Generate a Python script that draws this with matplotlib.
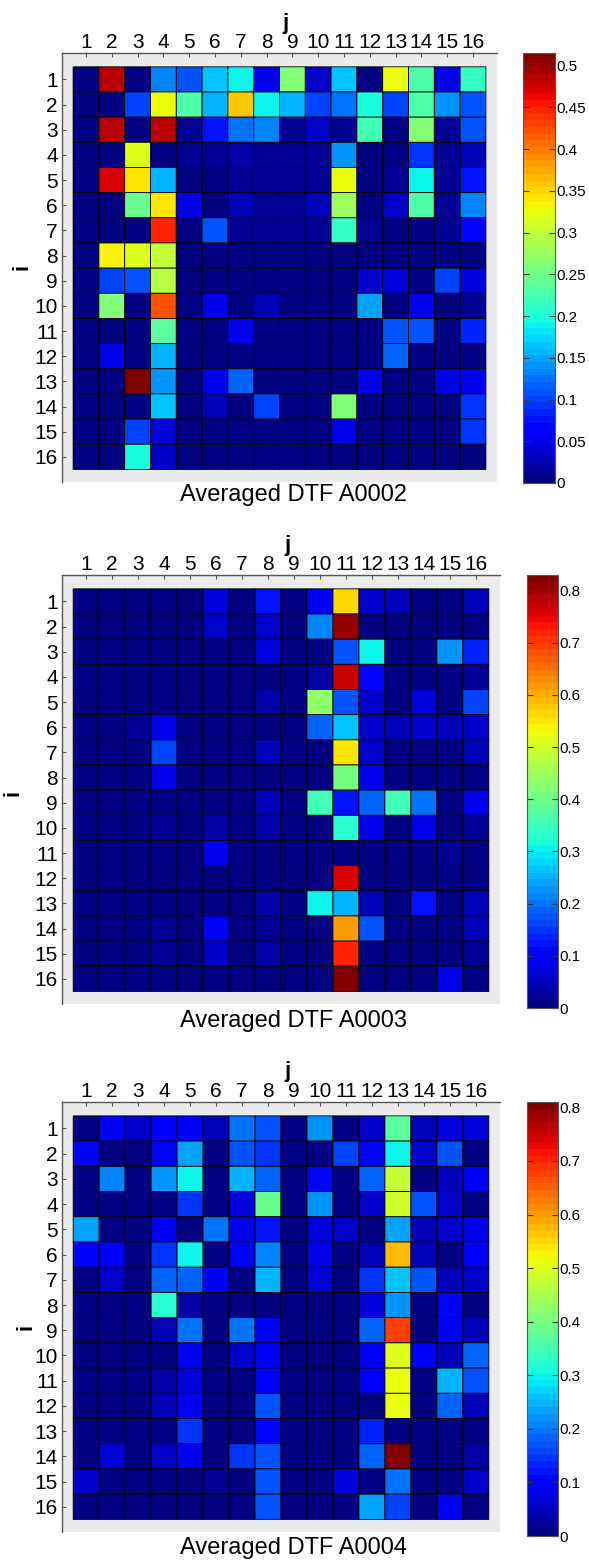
import matplotlib
matplotlib.use("Agg")
import matplotlib.pyplot as plt
import numpy as np

plt.rcParams['font.family'] = ['Liberation Sans', 'DejaVu Sans']

# channel indices (rows i, columns j)
channels = list(range(1, 17))

dtf_a0002 = [
    [0.005, 0.49, 0.005, 0.135, 0.11, 0.165, 0.19, 0.05, 0.26, 0.04, 0.165, 0.005, 0.325, 0.23, 0.055, 0.215],
    [0.005, 0.005, 0.1, 0.325, 0.23, 0.16, 0.36, 0.19, 0.16, 0.1, 0.125, 0.2, 0.1, 0.23, 0.14, 0.11],
    [0.005, 0.485, 0.005, 0.485, 0.01, 0.08, 0.125, 0.13, 0.01, 0.035, 0.01, 0.22, 0.005, 0.26, 0.01, 0.11],
    [0.005, 0.005, 0.32, 0.005, 0.01, 0.01, 0.02, 0.01, 0.01, 0.01, 0.14, 0.005, 0.005, 0.095, 0.01, 0.025],
    [0.005, 0.47, 0.34, 0.155, 0.005, 0.005, 0.01, 0.01, 0.01, 0.01, 0.325, 0.005, 0.01, 0.19, 0.01, 0.075],
    [0.005, 0.005, 0.245, 0.345, 0.05, 0.005, 0.025, 0.01, 0.01, 0.025, 0.275, 0.005, 0.035, 0.23, 0.01, 0.13],
    [0.005, 0.005, 0.005, 0.45, 0.005, 0.11, 0.01, 0.01, 0.01, 0.01, 0.21, 0.01, 0.005, 0.005, 0.01, 0.065],
    [0.005, 0.335, 0.32, 0.30, 0.005, 0.005, 0.005, 0.005, 0.005, 0.005, 0.005, 0.005, 0.005, 0.005, 0.005, 0.005],
    [0.005, 0.1, 0.11, 0.295, 0.005, 0.005, 0.005, 0.005, 0.005, 0.005, 0.005, 0.035, 0.045, 0.005, 0.1, 0.045],
    [0.005, 0.26, 0.005, 0.42, 0.005, 0.055, 0.005, 0.03, 0.005, 0.005, 0.005, 0.15, 0.005, 0.055, 0.005, 0.01],
    [0.005, 0.005, 0.005, 0.24, 0.005, 0.005, 0.055, 0.005, 0.005, 0.005, 0.005, 0.005, 0.11, 0.11, 0.005, 0.085],
    [0.005, 0.055, 0.005, 0.16, 0.005, 0.005, 0.005, 0.005, 0.005, 0.005, 0.005, 0.005, 0.12, 0.005, 0.005, 0.005],
    [0.005, 0.005, 0.515, 0.14, 0.005, 0.055, 0.12, 0.005, 0.005, 0.005, 0.005, 0.05, 0.005, 0.005, 0.055, 0.055],
    [0.005, 0.005, 0.005, 0.165, 0.005, 0.03, 0.005, 0.1, 0.005, 0.005, 0.26, 0.005, 0.005, 0.005, 0.005, 0.095],
    [0.005, 0.005, 0.1, 0.045, 0.005, 0.005, 0.005, 0.005, 0.005, 0.005, 0.055, 0.005, 0.005, 0.005, 0.005, 0.09],
    [0.005, 0.005, 0.2, 0.035, 0.005, 0.005, 0.005, 0.005, 0.005, 0.005, 0.005, 0.005, 0.005, 0.005, 0.005, 0.005],
]

dtf_a0003 = [
    [0.008, 0.008, 0.008, 0.008, 0.008, 0.075, 0.008, 0.125, 0.008, 0.1, 0.56, 0.06, 0.05, 0.008, 0.008, 0.04],
    [0.008, 0.008, 0.008, 0.008, 0.008, 0.06, 0.008, 0.06, 0.008, 0.21, 0.81, 0.01, 0.01, 0.008, 0.01, 0.01],
    [0.008, 0.008, 0.008, 0.008, 0.008, 0.008, 0.008, 0.07, 0.008, 0.01, 0.175, 0.31, 0.008, 0.008, 0.225, 0.14],
    [0.008, 0.008, 0.008, 0.008, 0.008, 0.008, 0.008, 0.008, 0.008, 0.03, 0.77, 0.11, 0.008, 0.008, 0.008, 0.025],
    [0.008, 0.008, 0.008, 0.008, 0.008, 0.008, 0.008, 0.03, 0.008, 0.43, 0.175, 0.06, 0.008, 0.07, 0.008, 0.16],
    [0.008, 0.008, 0.025, 0.08, 0.008, 0.008, 0.008, 0.008, 0.008, 0.19, 0.27, 0.06, 0.05, 0.06, 0.04, 0.06],
    [0.008, 0.008, 0.008, 0.16, 0.008, 0.008, 0.008, 0.045, 0.008, 0.008, 0.55, 0.06, 0.008, 0.008, 0.008, 0.045],
    [0.008, 0.008, 0.008, 0.08, 0.008, 0.008, 0.008, 0.008, 0.008, 0.008, 0.41, 0.08, 0.008, 0.008, 0.008, 0.008],
    [0.008, 0.008, 0.008, 0.008, 0.008, 0.008, 0.008, 0.045, 0.008, 0.355, 0.12, 0.19, 0.355, 0.2, 0.008, 0.09],
    [0.008, 0.008, 0.008, 0.025, 0.008, 0.035, 0.008, 0.03, 0.008, 0.008, 0.33, 0.09, 0.008, 0.08, 0.008, 0.025],
    [0.008, 0.008, 0.008, 0.008, 0.008, 0.09, 0.008, 0.008, 0.008, 0.008, 0.008, 0.008, 0.008, 0.008, 0.02, 0.008],
    [0.008, 0.008, 0.008, 0.008, 0.008, 0.008, 0.008, 0.008, 0.008, 0.008, 0.76, 0.008, 0.008, 0.008, 0.008, 0.008],
    [0.008, 0.008, 0.008, 0.008, 0.008, 0.008, 0.008, 0.035, 0.008, 0.31, 0.25, 0.04, 0.008, 0.12, 0.008, 0.04],
    [0.008, 0.008, 0.008, 0.025, 0.008, 0.1, 0.008, 0.025, 0.008, 0.008, 0.62, 0.17, 0.008, 0.008, 0.008, 0.04],
    [0.008, 0.008, 0.008, 0.025, 0.008, 0.06, 0.008, 0.03, 0.008, 0.008, 0.72, 0.008, 0.008, 0.008, 0.008, 0.025],
    [0.008, 0.008, 0.008, 0.008, 0.008, 0.008, 0.008, 0.008, 0.008, 0.008, 0.83, 0.008, 0.008, 0.008, 0.09, 0.008],
]

dtf_a0004 = [
    [0.008, 0.09, 0.06, 0.09, 0.09, 0.05, 0.2, 0.17, 0.008, 0.22, 0.008, 0.06, 0.37, 0.04, 0.07, 0.07],
    [0.1, 0.008, 0.008, 0.105, 0.24, 0.008, 0.17, 0.15, 0.008, 0.008, 0.16, 0.105, 0.30, 0.06, 0.17, 0.008],
    [0.008, 0.21, 0.008, 0.22, 0.30, 0.008, 0.25, 0.18, 0.008, 0.105, 0.008, 0.18, 0.47, 0.008, 0.04, 0.09],
    [0.008, 0.008, 0.008, 0.008, 0.14, 0.008, 0.07, 0.39, 0.008, 0.22, 0.008, 0.06, 0.49, 0.17, 0.06, 0.008],
    [0.24, 0.008, 0.008, 0.09, 0.008, 0.19, 0.08, 0.12, 0.008, 0.07, 0.06, 0.008, 0.23, 0.04, 0.06, 0.08],
    [0.1, 0.09, 0.008, 0.15, 0.30, 0.008, 0.1, 0.21, 0.008, 0.08, 0.008, 0.04, 0.57, 0.05, 0.008, 0.1],
    [0.008, 0.06, 0.008, 0.18, 0.18, 0.09, 0.008, 0.25, 0.008, 0.07, 0.008, 0.14, 0.26, 0.17, 0.05, 0.06],
    [0.008, 0.008, 0.008, 0.32, 0.03, 0.008, 0.008, 0.008, 0.008, 0.008, 0.008, 0.07, 0.22, 0.008, 0.09, 0.008],
    [0.008, 0.008, 0.008, 0.05, 0.19, 0.008, 0.2, 0.1, 0.008, 0.008, 0.008, 0.18, 0.68, 0.008, 0.09, 0.04],
    [0.008, 0.008, 0.008, 0.008, 0.09, 0.008, 0.06, 0.09, 0.008, 0.008, 0.008, 0.09, 0.50, 0.1, 0.05, 0.18],
    [0.008, 0.008, 0.008, 0.03, 0.07, 0.008, 0.008, 0.09, 0.008, 0.008, 0.008, 0.1, 0.51, 0.008, 0.25, 0.17],
    [0.008, 0.008, 0.008, 0.04, 0.09, 0.008, 0.008, 0.17, 0.008, 0.008, 0.008, 0.008, 0.51, 0.008, 0.18, 0.04],
    [0.008, 0.008, 0.008, 0.008, 0.14, 0.008, 0.008, 0.11, 0.008, 0.008, 0.008, 0.13, 0.008, 0.008, 0.008, 0.008],
    [0.008, 0.07, 0.008, 0.06, 0.1, 0.008, 0.14, 0.17, 0.008, 0.008, 0.008, 0.18, 0.81, 0.008, 0.008, 0.03],
    [0.06, 0.008, 0.008, 0.008, 0.008, 0.02, 0.008, 0.17, 0.008, 0.008, 0.07, 0.008, 0.19, 0.008, 0.008, 0.06],
    [0.008, 0.008, 0.008, 0.008, 0.008, 0.008, 0.008, 0.17, 0.008, 0.008, 0.008, 0.24, 0.16, 0.008, 0.09, 0.008],
]

titles = ['Averaged DTF A0002', 'Averaged DTF A0003', 'Averaged DTF A0004']
color_max = [0.515, 0.83, 0.81]
cbar_ticks = [
    [0, 0.05, 0.1, 0.15, 0.2, 0.25, 0.3, 0.35, 0.4, 0.45, 0.5],
    [0, 0.1, 0.2, 0.3, 0.4, 0.5, 0.6, 0.7, 0.8],
    [0, 0.1, 0.2, 0.3, 0.4, 0.5, 0.6, 0.7, 0.8],
]

W, H = 589, 1563
fig = plt.figure(figsize=(W / 100, H / 100), dpi=100)


def rect(x0, y0, x1, y1):
    # pixel box (top-left origin) -> figure fraction
    return [x0 / W, 1 - y1 / H, (x1 - x0) / W, (y1 - y0) / H]


# pixel layout of each panel: axes box, colorbar box, title y, j label y, i label x/y
layout = [
    dict(ax=(62, 53, 497, 482), cb=(523, 53, 555, 483), title_y=495, j_y=24, i_x=22, i_y=267),
    dict(ax=(62, 575, 500, 1004), cb=(527, 575, 558, 1008), title_y=1021, j_y=545, i_x=13, i_y=793),
    dict(ax=(62, 1102, 500, 1532), cb=(527, 1102, 558, 1536), title_y=1548, j_y=1072, i_x=26, i_y=1327),
]

cmap = plt.get_cmap('jet', 64)
matrices = [dtf_a0002, dtf_a0003, dtf_a0004]

for data, title, vmax, ticks, lay in zip(matrices, titles, color_max, cbar_ticks, layout):
    ax = fig.add_axes(rect(*lay['ax']))
    ax.set_facecolor('#ebebeb')
    edges = np.arange(0.5, 17.5, 1)
    mesh = ax.pcolormesh(edges, edges, np.array(data), cmap=cmap, vmin=0, vmax=vmax,
                         edgecolors='black', linewidth=0.6, antialiased=True, snap=False)
    ax.set_xlim(0.07, 16.93)
    ax.set_ylim(17.0, -0.05)
    ax.xaxis.tick_top()
    ax.set_xticks(channels)
    ax.set_yticks(channels)
    ax.set_xticklabels([str(c) for c in channels], fontsize=15)
    ax.set_yticklabels([str(c) for c in channels], fontsize=15)
    ax.tick_params(axis='x', direction='in', length=3, width=0.8, color='#555555', pad=1)
    ax.tick_params(axis='y', direction='in', length=3, width=0.8, color='#555555', pad=3)
    for side in ['right', 'bottom']:
        ax.spines[side].set_visible(False)
    for side in ['top', 'left']:
        ax.spines[side].set_color('#555555')
        ax.spines[side].set_linewidth(1.0)

    cax = fig.add_axes(rect(*lay['cb']))
    cb = fig.colorbar(mesh, cax=cax)
    cb.set_ticks(ticks)
    cb.set_ticklabels([f'{t:g}' for t in ticks])
    cax.tick_params(direction='in', length=4, width=0.8, left=True, right=True,
                    labelsize=11, pad=1, color='#333333')
    cb.outline.set_edgecolor('#555555')
    cb.outline.set_linewidth(0.8)

    x_mid = (lay['ax'][0] + lay['ax'][2]) / 2 + 6
    fig.text(x_mid / W, 1 - lay['j_y'] / H, 'j', fontsize=16, fontweight='bold',
             ha='center', va='center')
    fig.text(lay['i_x'] / W, 1 - lay['i_y'] / H, 'i', fontsize=16, fontweight='bold',
             rotation=90, ha='center', va='center')
    fig.text(293 / W, 1 - lay['title_y'] / H, title, fontsize=17, ha='center', va='center')

fig.savefig('out.png', dpi=100)
